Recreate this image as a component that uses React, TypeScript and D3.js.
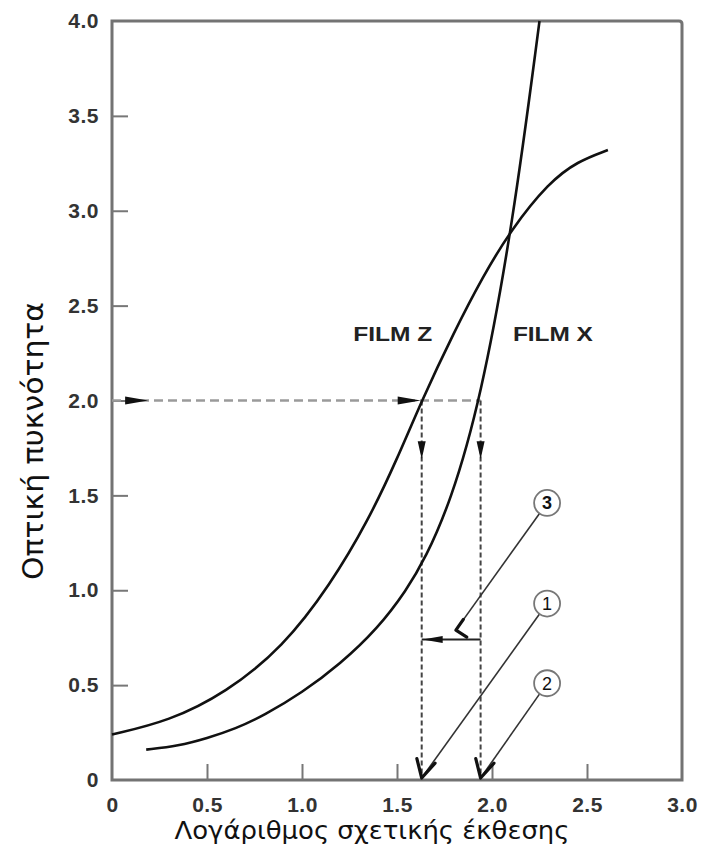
import React, { useEffect, useRef } from "react";
import * as d3 from "d3";

// Characteristic (H&D) curves: optical density vs log relative exposure
const filmZLogE = [0, 0.3, 0.6, 0.9, 1.15, 1.35, 1.5, 1.63, 1.8, 1.95, 2.1, 2.3, 2.45, 2.61];
const filmZDensity = [0.24, 0.31, 0.46, 0.7, 1.03, 1.37, 1.69, 2.0, 2.36, 2.65, 2.9, 3.15, 3.26, 3.32];
const filmXLogE = [0.18, 0.35, 0.5, 0.65, 0.8, 1.0, 1.2, 1.4, 1.55, 1.65, 1.78, 1.94, 2.11, 2.25];
const filmXDensity = [0.16, 0.18, 0.22, 0.27, 0.34, 0.46, 0.61, 0.8, 1.0, 1.17, 1.46, 2.0, 2.93, 4.0];

const xTicks = [0, 0.5, 1.0, 1.5, 2.0, 2.5, 3.0];
const yTicks = [0, 0.5, 1.0, 1.5, 2.0, 2.5, 3.0, 3.5, 4.0];

// Reference density and the exposures where each film reaches it
const refDensity = 2.0;
const logEZ = 1.63;
const logEX = 1.94;
const gapDensity = 0.74;

// Numbered callouts: label, circle position, and the point the leader reaches
const calloutLabels = ["3", "1", "2"];
const calloutCircle = [[2.29, 1.46], [2.29, 0.93], [2.29, 0.51]];
const calloutTarget = [[1.81, 0.79], [1.63, 0], [1.94, 0]];

const W = 703;
const H = 859;
const left = 112;
const right = 682;
const top = 21;
const bottom = 780;

type Pt = [number, number];

function triangle(tip: Pt, dir: Pt, len: number, half: number): string {
  const n = Math.hypot(dir[0], dir[1]);
  const ux = dir[0] / n, uy = dir[1] / n;
  const bx = tip[0] - ux * len, by = tip[1] - uy * len;
  const px = -uy, py = ux;
  return `M${tip[0]},${tip[1]}L${bx + px * half},${by + py * half}L${bx - px * half},${by - py * half}Z`;
}

function wings(tip: Pt, angles: number[], len: number): string {
  return angles
    .map((a) => {
      const r = (a * Math.PI) / 180;
      return `M${tip[0]},${tip[1]}L${tip[0] + Math.cos(r) * len},${tip[1] + Math.sin(r) * len}`;
    })
    .join("");
}

export default function App() {
  const xAxisRef = useRef<SVGGElement>(null);
  const yAxisRef = useRef<SVGGElement>(null);

  const x = d3.scaleLinear().domain([0, 3]).range([left, right]);
  const y = d3.scaleLinear().domain([0, 4]).range([bottom, top]);

  const line = d3
    .line<[number, number]>()
    .x((d) => x(d[0]))
    .y((d) => y(d[1]))
    .curve(d3.curveBasis);

  const zData = filmZLogE.map((v, i) => [v, filmZDensity[i]] as [number, number]);
  const xData = filmXLogE.map((v, i) => [v, filmXDensity[i]] as [number, number]);

  const fmt = (d: number) => (d === 0 ? "0" : d3.format(".1f")(d));

  useEffect(() => {
    const gx = d3.select(xAxisRef.current!);
    gx.selectAll("*").remove();
    gx.call(
      d3.axisBottom(x).tickValues(xTicks).tickFormat((d) => fmt(d as number)).tickSizeInner(-16).tickSizeOuter(0).tickPadding(17)
    );
    const gy = d3.select(yAxisRef.current!);
    gy.selectAll("*").remove();
    gy.call(
      d3.axisLeft(y).tickValues(yTicks).tickFormat((d) => fmt(d as number)).tickSizeInner(-16).tickSizeOuter(0).tickPadding(13)
    );
    [gx, gy].forEach((g) => {
      g.select(".domain").remove();
      g.selectAll(".tick line").attr("stroke", "#777").attr("stroke-width", 2);
      g.selectAll(".tick text")
        .attr("fill", "#333")
        .attr("font-family", "'Liberation Sans', Arial, sans-serif")
        .attr("font-weight", "bold")
        .attr("font-size", 21)
        .attr("letter-spacing", 0.5);
    });
    // no tick marks at the frame corners
    gx.selectAll(".tick").filter((d) => d === 0 || d === 3).select("line").remove();
    gy.selectAll(".tick").filter((d) => d === 0 || d === 4).select("line").remove();
  }, []);

  const yRef = y(refDensity);
  const xZ = x(logEZ);
  const xX = x(logEX);
  const yGap = y(gapDensity);

  return (
    <svg width={W} height={H} style={{ position: "absolute", left: 0, top: 0, background: "#fff" }}>
      <rect x={0} y={0} width={W} height={H} fill="#fff" />

      {/* frame */}
      <path
        d={`M${left},${top}H${right - 3}Q${right},${top} ${right},${top + 3}V${bottom}H${left}Z`}
        fill="none"
        stroke="#737373"
        strokeWidth={3}
      />
      <g ref={xAxisRef} transform={`translate(0,${bottom})`} />
      <g ref={yAxisRef} transform={`translate(${left},0)`} />

      {/* reference density guide */}
      <line x1={left} x2={xX} y1={yRef} y2={yRef} stroke="#9a9a9a" strokeWidth={2.5} strokeDasharray="9,5" />
      <path d={triangle([x(0.19), yRef], [1, 0], 23, 4)} fill="#111" />
      <path d={triangle([xZ - 1, yRef], [1, 0], 23, 4)} fill="#111" />

      {/* drops to the exposure axis */}
      {[xZ, xX].map((px, i) => (
        <g key={i}>
          <line x1={px} x2={px} y1={yRef} y2={bottom - 2} stroke="#444" strokeWidth={2} strokeDasharray="5,3" />
          <path d={triangle([px, y(1.69)], [0, 1], 18, 4)} fill="#111" />
        </g>
      ))}

      {/* exposure difference */}
      <line x1={xZ} x2={xX} y1={yGap} y2={yGap} stroke="#222" strokeWidth={2} />
      <path d={triangle([xZ + 1, yGap], [-1, 0], 20, 3.5)} fill="#111" />

      {/* curves */}
      <path d={line(zData) ?? ""} fill="none" stroke="#111" strokeWidth={2.6} />
      <path d={line(xData) ?? ""} fill="none" stroke="#111" strokeWidth={2.6} />

      {/* callouts */}
      {calloutLabels.map((lab, i) => {
        const c: Pt = [x(calloutCircle[i][0]), y(calloutCircle[i][1])];
        const t: Pt = [x(calloutTarget[i][0]), y(calloutTarget[i][1]) - (i === 0 ? 0 : 2)];
        const r = 13;
        const dx = t[0] - c[0], dy = t[1] - c[1];
        const n = Math.hypot(dx, dy);
        const s: Pt = [c[0] + (dx / n) * r, c[1] + (dy / n) * r];
        const head = i === 0 ? wings(t, [-55, 33], 13) : wings(t, [-104, -48], 20);
        return (
          <g key={lab}>
            <line x1={s[0]} y1={s[1]} x2={t[0]} y2={t[1]} stroke="#333" strokeWidth={1.6} />
            <path d={head} fill="none" stroke="#111" strokeWidth={3.2} strokeLinecap="round" />
            <circle cx={c[0]} cy={c[1]} r={r} fill="#fff" stroke="#777" strokeWidth={1.8} />
            <text
              x={c[0]}
              y={c[1] + 6.5}
              textAnchor="middle"
              fontFamily="'Liberation Sans', Arial, sans-serif"
              fontSize={18}
              fontWeight={i === 0 ? "bold" : "normal"}
              fill="#111"
            >
              {lab}
            </text>
          </g>
        );
      })}

      {/* film labels */}
      <text x={x(1.27)} y={341} fontFamily="'Liberation Sans', Arial, sans-serif" fontWeight="bold" fontSize={21} fill="#222" textLength={79} lengthAdjust="spacingAndGlyphs">
        FILM Z
      </text>
      <text x={x(2.11)} y={341} fontFamily="'Liberation Sans', Arial, sans-serif" fontWeight="bold" fontSize={21} fill="#222" textLength={80} lengthAdjust="spacingAndGlyphs">
        FILM X
      </text>

      {/* axis titles */}
      <text x={372} y={839} textAnchor="middle" fontFamily="'DejaVu Sans', 'Liberation Sans', sans-serif" fontSize={24} fill="#111" textLength={395} lengthAdjust="spacingAndGlyphs">
        Λογάριθμος σχετικής έκθεσης
      </text>
      <text
        transform="translate(43,441) rotate(-90)"
        textAnchor="middle"
        fontFamily="'DejaVu Sans', 'Liberation Sans', sans-serif"
        fontSize={29}
        fill="#111"
        textLength={278}
        lengthAdjust="spacingAndGlyphs"
      >
        Οπτική πυκνότητα
      </text>
    </svg>
  );
}
